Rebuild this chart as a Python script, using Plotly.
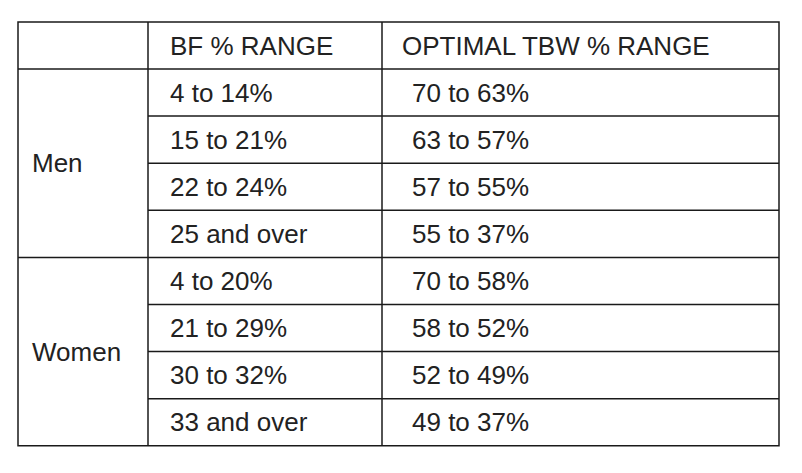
import plotly.graph_objects as go

headers = ["", "BF % RANGE", "OPTIMAL TBW % RANGE"]
groups = ["Men", "Women"]
bf_ranges = ["4 to 14%", "15 to 21%", "22 to 24%", "25 and over",
             "4 to 20%", "21 to 29%", "30 to 32%", "33 and over"]
tbw_ranges = ["70 to 63%", "63 to 57%", "57 to 55%", "55 to 37%",
              "70 to 58%", "58 to 52%", "52 to 49%", "49 to 37%"]

W, H = 802, 473
off = 8  # page body margin
col_x = [18, 148, 382, 779]
top, header_h, row_h = 22, 47, 47.1
n = len(bf_ranges)
rows_per_group = n // len(groups)
row_y = [top + header_h + i * row_h for i in range(n + 1)]

fig = go.Figure()
shapes = []
line = dict(color="#1a1a1a", width=1.5)
shapes.append(dict(type="rect", x0=col_x[0], x1=col_x[-1], y0=top, y1=row_y[-1], line=line))
for x in col_x[1:-1]:
    shapes.append(dict(type="line", x0=x, x1=x, y0=top, y1=row_y[-1], line=line))
shapes.append(dict(type="line", x0=col_x[0], x1=col_x[-1], y0=row_y[0], y1=row_y[0], line=line))
for i in range(1, n):
    x0 = col_x[0] if i % rows_per_group == 0 else col_x[1]
    shapes.append(dict(type="line", x0=x0, x1=col_x[-1], y0=row_y[i], y1=row_y[i], line=line))

font = dict(family="Liberation Sans, Arial", size=26, color="#222222")
ann = []
hx = [30, 168, 400]
for h, x in zip(headers, hx):
    if h:
        ann.append(dict(x=x, y=(top + row_y[0]) / 2, text=h, showarrow=False, xanchor="left", yanchor="middle", font=font))
for g, name in enumerate(groups):
    yc = (row_y[g * rows_per_group] + row_y[(g + 1) * rows_per_group]) / 2
    ann.append(dict(x=30, y=yc, text=name, showarrow=False, xanchor="left", yanchor="middle", font=font))
for i in range(n):
    yc = (row_y[i] + row_y[i + 1]) / 2
    ann.append(dict(x=168, y=yc, text=bf_ranges[i], showarrow=False, xanchor="left", yanchor="middle", font=font))
    ann.append(dict(x=410, y=yc, text=tbw_ranges[i], showarrow=False, xanchor="left", yanchor="middle", font=font))

fig.update_layout(width=W, height=H, margin=dict(l=0, r=0, t=0, b=0),
                  paper_bgcolor="white", plot_bgcolor="white",
                  shapes=shapes, annotations=ann,
                  xaxis=dict(range=[off, W + off], visible=False, fixedrange=True),
                  yaxis=dict(range=[H + off, off], visible=False, fixedrange=True),
                  showlegend=False)
fig.write_html("out.html", config={"displayModeBar": False})
